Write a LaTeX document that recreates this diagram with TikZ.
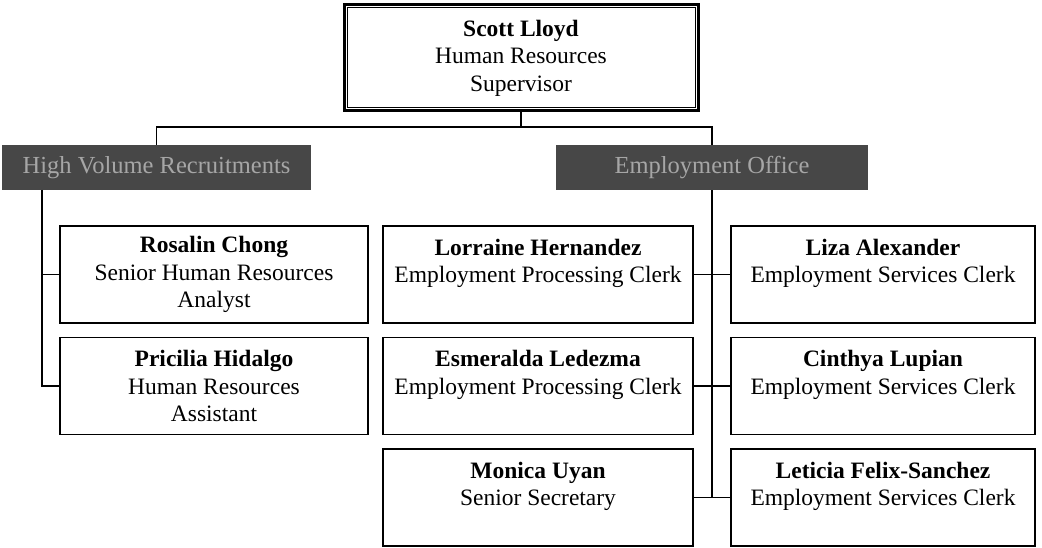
\documentclass[tikz,border=0pt]{standalone}
\usepackage{fontspec}
\setmainfont{Liberation Serif}
\begin{document}
\begin{tikzpicture}[x=1pt,y=-1pt,
  every node/.style={font=\fontsize{23.5}{27.5}\selectfont},
  person/.style={draw=black, line width=1.6pt, align=center, inner sep=0pt, minimum height=97pt},
  bar/.style={fill=black!72, text=black!35, inner sep=0pt, minimum height=45pt, font=\fontsize{24.5}{28}\selectfont},
  conn/.style={line width=1.6pt}]
\useasboundingbox (0,0) rectangle (1042,548);
% top box
\node[draw=black, line width=3pt, minimum width=354pt, minimum height=106pt, align=center, inner sep=0pt] (top) at (521,58)
  {\textbf{Scott Lloyd}\\Human Resources\\Supervisor};
\draw[line width=1pt] ([shift={(4.5pt,4.5pt)}]top.south west) rectangle ([shift={(-4.5pt,-4.5pt)}]top.north east);
% bars
\node[bar, minimum width=309pt] (hv) at (156.5,167.5) {High Volume Recruitments};
\node[bar, minimum width=312pt] (eo) at (712,167.5) {Employment Office};
% left column
\node[person, minimum width=308pt] (rc) at (214,274.5) {\textbf{Rosalin Chong}\\Senior Human Resources\\Analyst};
\node[person, minimum width=308pt] (ph) at (214,386) {\textbf{Pricilia Hidalgo}\\Human Resources\\Assistant};
% middle column
\node[person, minimum width=310pt] (lh) at (538,274.5) {\textbf{Lorraine Hernandez}\\Employment Processing Clerk\\~};
\node[person, minimum width=310pt] (el) at (538,386) {\textbf{Esmeralda Ledezma}\\Employment Processing Clerk\\~};
\node[person, minimum width=310pt] (mu) at (538,497.5) {\textbf{Monica Uyan}\\Senior Secretary\\~};
% right column
\node[person, minimum width=304pt] (la) at (883,274.5) {\textbf{Liza Alexander}\\Employment Services Clerk\\~};
\node[person, minimum width=304pt] (cl) at (883,386) {\textbf{Cinthya Lupian}\\Employment Services Clerk\\~};
\node[person, minimum width=304pt] (lf) at (883,497.5) {\textbf{Leticia Felix-Sanchez}\\Employment Services Clerk\\~};
% connectors
\coordinate (bus) at (521,127);
\coordinate (lbus) at (42,190);
\draw[conn] (top.south) -- (top.south |- bus);
\draw[conn] (hv.north) -- (hv.north |- bus) -- (eo.north |- bus) -- (eo.north);
\draw[conn] (lbus) -- (lbus |- ph.west) -- (ph.west);
\draw[conn] (lbus |- rc.west) -- (rc.west);
\draw[conn] (eo.south) -- (eo.south |- mu.east);
\draw[conn] (lh.east) -- (la.west);
\draw[conn] (el.east) -- (cl.west);
\draw[conn] (mu.east) -- (lf.west);
\end{tikzpicture}
\end{document}
